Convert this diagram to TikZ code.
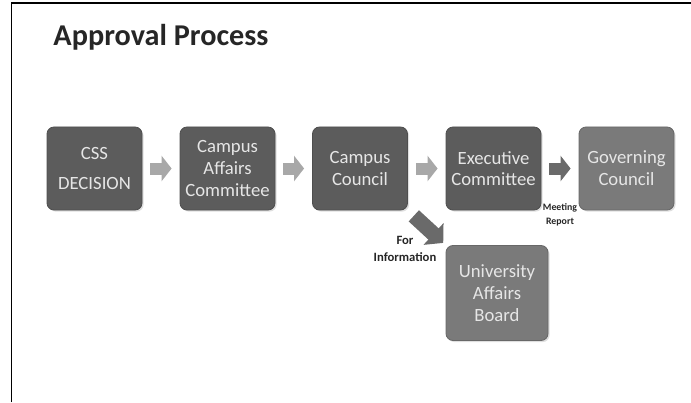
\documentclass[tikz,border=0pt]{standalone}
\usepackage{fontspec}
\setmainfont{Carlito}
\usetikzlibrary{arrows.meta,shadows}

\definecolor{boxdark}{HTML}{5C5C5C}
\definecolor{boxlight}{HTML}{7A7A7A}
\definecolor{boxtext}{HTML}{E6E6E6}
\definecolor{arrowlight}{HTML}{A8A8A8}
\definecolor{arrowdark}{HTML}{6A6A6A}

\begin{document}
\begin{tikzpicture}[
  stepbox/.style={rectangle, rounded corners=5pt, fill=boxdark, draw=boxdark!85!black,
    line width=.6pt, text=boxtext, align=center, inner sep=1pt,
    minimum width=2.375cm, minimum height=2.075cm,
    font=\fontsize{13.3}{15.5}\selectfont,
    drop shadow={opacity=.25, shadow xshift=.04cm, shadow yshift=-.04cm}},
  flow/.style={arrowlight, line width=.3cm, -{Triangle[width=.625cm,length=.25cm]},
    shorten <=.2cm, shorten >=.2cm},
  note/.style={align=center, text=black!85}
]
\useasboundingbox (0,0) rectangle (17.275,-10.05);

\draw[line width=1.2pt] (.29,-10.05) -- (.29,-.075) -- (17.275,-.075); % cornice

\node[anchor=base west, inner sep=0pt, text=black!85, font=\bfseries\fontsize{21.5}{25}\selectfont] (title) at (1.33,-1.15) {Approval Process};

% caselle
\node[stepbox] (css) at (2.3625,-4.2125) {CSS\\[6pt]DECISION};
\node[stepbox] (cac) at (5.6875,-4.2125) {Campus\\Affairs\\Committee};
\node[stepbox] (cc) at (9,-4.2125) {Campus\\Council};
\node[stepbox] (ec) at (12.3375,-4.2125) {Executive\\Committee};
\node[stepbox, fill=boxlight, draw=boxlight!85!black] (gc) at (15.6625,-4.2125) {Governing\\Council};
\node[stepbox, fill=boxlight, draw=boxlight!85!black, minimum width=2.55cm, minimum height=2.375cm] (uab) at (12.425,-7.325) {University\\Affairs\\Board};

% frecce
\draw[flow] (css) -- (cac);
\draw[flow] (cac) -- (cc);
\draw[flow] (cc) -- (ec);
\draw[flow, arrowdark] (ec) -- (gc);
\draw[flow, arrowdark, line width=.38cm, -{Triangle[width=.72cm,length=.33cm]},
  shorten <=.2cm, shorten >=.08cm] (cc.south east) -- (uab.north west);

\node[note, font=\bfseries\fontsize{9}{12.5}\selectfont] (info) at (10.125,-6.22) {For\\Information};
\node[note, font=\bfseries\fontsize{7}{10}\selectfont] (rep) at (14.0,-5.36) {Meeting\\Report};

\end{tikzpicture}
\end{document}
